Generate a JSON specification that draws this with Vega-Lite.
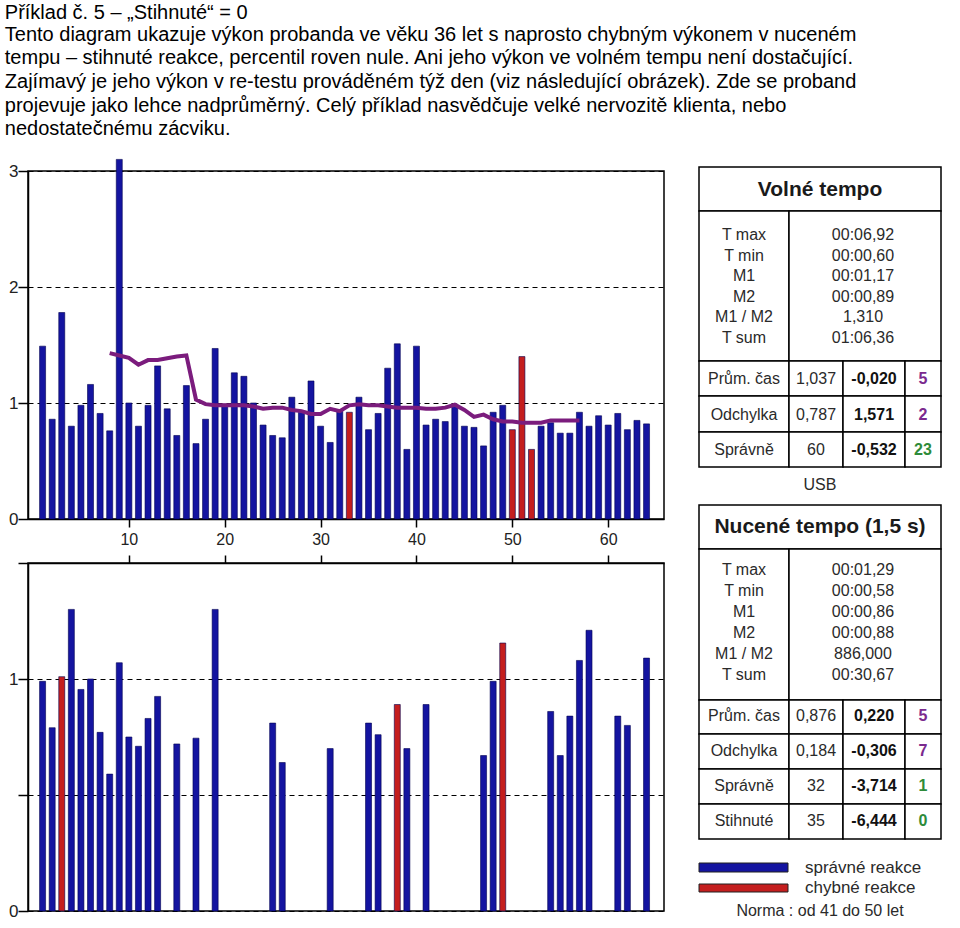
{
  "$schema": "https://vega.github.io/schema/vega-lite/v6.json",
  "padding": {"left": 4, "top": 2, "right": 0, "bottom": 0},
  "background": "white",
  "title": {
    "text": "Příklad č. 5 – „Stihnuté“ = 0",
    "subtitle": [
      "Tento diagram ukazuje výkon probanda ve věku 36 let s naprosto chybným výkonem v nuceném",
      "tempu – stihnuté reakce, percentil roven nule. Ani jeho výkon ve volném tempu není dostačující.",
      "Zajímavý je jeho výkon v re-testu prováděném týž den (viz následující obrázek). Zde se proband",
      "projevuje jako lehce nadprůměrný. Celý příklad nasvědčuje velké nervozitě klienta, nebo",
      "nedostatečnému zácviku."
    ],
    "anchor": "start",
    "frame": "bounds",
    "dx": -3,
    "font": "Liberation Sans",
    "fontSize": 20,
    "fontWeight": "normal",
    "color": "black",
    "subtitleFont": "Liberation Sans",
    "subtitleFontSize": 20,
    "subtitleColor": "black",
    "subtitleLineHeight": 23.7,
    "subtitlePadding": 2,
    "offset": 19
  },
  "datasets": {
    "volne": [
      {"n":1,"v":1.49,"r":"správná"},{"n":2,"v":0.86,"r":"správná"},{"n":3,"v":1.78,"r":"správná"},{"n":4,"v":0.80,"r":"správná"},
      {"n":5,"v":0.98,"r":"správná"},{"n":6,"v":1.16,"r":"správná"},{"n":7,"v":0.91,"r":"správná"},{"n":8,"v":0.76,"r":"správná"},
      {"n":9,"v":3.10,"r":"správná"},{"n":10,"v":1.00,"r":"správná"},{"n":11,"v":0.80,"r":"správná"},{"n":12,"v":0.98,"r":"správná"},
      {"n":13,"v":1.32,"r":"správná"},{"n":14,"v":0.95,"r":"správná"},{"n":15,"v":0.72,"r":"správná"},{"n":16,"v":1.15,"r":"správná"},
      {"n":17,"v":0.65,"r":"správná"},{"n":18,"v":0.86,"r":"správná"},{"n":19,"v":1.47,"r":"správná"},{"n":20,"v":0.99,"r":"správná"},
      {"n":21,"v":1.26,"r":"správná"},{"n":22,"v":1.23,"r":"správná"},{"n":23,"v":1.00,"r":"správná"},{"n":24,"v":0.81,"r":"správná"},
      {"n":25,"v":0.72,"r":"správná"},{"n":26,"v":0.70,"r":"správná"},{"n":27,"v":1.05,"r":"správná"},{"n":28,"v":0.92,"r":"správná"},
      {"n":29,"v":1.19,"r":"správná"},{"n":30,"v":0.80,"r":"správná"},{"n":31,"v":0.66,"r":"správná"},{"n":32,"v":0.93,"r":"správná"},
      {"n":33,"v":0.92,"r":"chybná"},{"n":34,"v":1.05,"r":"správná"},{"n":35,"v":0.77,"r":"správná"},{"n":36,"v":0.91,"r":"správná"},
      {"n":37,"v":1.30,"r":"správná"},{"n":38,"v":1.51,"r":"správná"},{"n":39,"v":0.60,"r":"správná"},{"n":40,"v":1.49,"r":"správná"},
      {"n":41,"v":0.81,"r":"správná"},{"n":42,"v":0.86,"r":"správná"},{"n":43,"v":0.84,"r":"správná"},{"n":44,"v":0.99,"r":"správná"},
      {"n":45,"v":0.80,"r":"správná"},{"n":46,"v":0.79,"r":"správná"},{"n":47,"v":0.63,"r":"správná"},{"n":48,"v":0.92,"r":"správná"},
      {"n":49,"v":0.98,"r":"správná"},{"n":50,"v":0.77,"r":"chybná"},{"n":51,"v":1.40,"r":"chybná"},{"n":52,"v":0.60,"r":"chybná"},
      {"n":53,"v":0.80,"r":"správná"},{"n":54,"v":0.83,"r":"správná"},{"n":55,"v":0.74,"r":"správná"},{"n":56,"v":0.74,"r":"správná"},
      {"n":57,"v":0.92,"r":"správná"},{"n":58,"v":0.80,"r":"správná"},{"n":59,"v":0.89,"r":"správná"},{"n":60,"v":0.81,"r":"správná"},
      {"n":61,"v":0.91,"r":"správná"},{"n":62,"v":0.77,"r":"správná"},{"n":63,"v":0.85,"r":"správná"},{"n":64,"v":0.82,"r":"správná"}
    ],
    "volneMedian": [
      {"n":8,"m":1.43},{"n":9,"m":1.41},{"n":10,"m":1.39},{"n":11,"m":1.33},{"n":12,"m":1.37},{"n":13,"m":1.37},
      {"n":14,"m":1.385},{"n":15,"m":1.40},{"n":16,"m":1.41},{"n":17,"m":1.03},{"n":18,"m":0.99},{"n":19,"m":0.98},
      {"n":20,"m":0.98},{"n":21,"m":0.98},{"n":22,"m":0.98},{"n":23,"m":0.97},{"n":24,"m":0.95},{"n":25,"m":0.96},
      {"n":26,"m":0.96},{"n":27,"m":0.94},{"n":28,"m":0.93},{"n":29,"m":0.905},{"n":30,"m":0.905},{"n":31,"m":0.95},
      {"n":32,"m":0.93},{"n":33,"m":0.98},{"n":34,"m":0.99},{"n":35,"m":0.98},{"n":36,"m":0.98},{"n":37,"m":0.97},
      {"n":38,"m":0.96},{"n":39,"m":0.96},{"n":40,"m":0.96},{"n":41,"m":0.95},{"n":42,"m":0.95},{"n":43,"m":0.96},
      {"n":44,"m":0.985},{"n":45,"m":0.94},{"n":46,"m":0.88},{"n":47,"m":0.90},{"n":48,"m":0.86},{"n":49,"m":0.84},
      {"n":50,"m":0.84},{"n":51,"m":0.83},{"n":52,"m":0.83},{"n":53,"m":0.83},{"n":54,"m":0.85},{"n":55,"m":0.85},
      {"n":56,"m":0.85},{"n":57,"m":0.85}
    ],
    "nucene": [
      {"n":1,"v":0.99,"r":"správná"},{"n":2,"v":0.79,"r":"správná"},{"n":3,"v":1.01,"r":"chybná"},{"n":4,"v":1.30,"r":"správná"},
      {"n":5,"v":0.955,"r":"správná"},{"n":6,"v":1.00,"r":"správná"},{"n":7,"v":0.77,"r":"správná"},{"n":8,"v":0.59,"r":"správná"},
      {"n":9,"v":1.07,"r":"správná"},{"n":10,"v":0.75,"r":"správná"},{"n":11,"v":0.71,"r":"správná"},{"n":12,"v":0.83,"r":"správná"},
      {"n":13,"v":0.925,"r":"správná"},{"n":15,"v":0.72,"r":"správná"},{"n":17,"v":0.745,"r":"správná"},{"n":19,"v":1.30,"r":"správná"},
      {"n":25,"v":0.81,"r":"správná"},{"n":26,"v":0.64,"r":"správná"},{"n":31,"v":0.70,"r":"správná"},{"n":35,"v":0.81,"r":"správná"},
      {"n":36,"v":0.76,"r":"správná"},{"n":38,"v":0.89,"r":"chybná"},{"n":39,"v":0.70,"r":"správná"},{"n":41,"v":0.89,"r":"správná"},
      {"n":47,"v":0.67,"r":"správná"},{"n":48,"v":0.99,"r":"správná"},{"n":49,"v":1.155,"r":"chybná"},{"n":54,"v":0.86,"r":"správná"},
      {"n":55,"v":0.67,"r":"správná"},{"n":56,"v":0.84,"r":"správná"},{"n":57,"v":1.08,"r":"správná"},{"n":58,"v":1.21,"r":"správná"},
      {"n":61,"v":0.84,"r":"správná"},{"n":62,"v":0.80,"r":"správná"},{"n":64,"v":1.09,"r":"správná"}
    ],
    "cells": [
      {"x0":0,"x1":242,"y0":8,"y1":52},{"x0":0,"x1":90,"y0":52,"y1":202},{"x0":90,"x1":242,"y0":52,"y1":202},
      {"x0":0,"x1":90,"y0":202,"y1":237},{"x0":90,"x1":144,"y0":202,"y1":237},{"x0":144,"x1":206,"y0":202,"y1":237},{"x0":206,"x1":242,"y0":202,"y1":237},
      {"x0":0,"x1":90,"y0":237,"y1":273},{"x0":90,"x1":144,"y0":237,"y1":273},{"x0":144,"x1":206,"y0":237,"y1":273},{"x0":206,"x1":242,"y0":237,"y1":273},
      {"x0":0,"x1":90,"y0":273,"y1":308},{"x0":90,"x1":144,"y0":273,"y1":308},{"x0":144,"x1":206,"y0":273,"y1":308},{"x0":206,"x1":242,"y0":273,"y1":308},
      {"x0":0,"x1":242,"y0":346,"y1":390},{"x0":0,"x1":90,"y0":390,"y1":541},{"x0":90,"x1":242,"y0":390,"y1":541},
      {"x0":0,"x1":90,"y0":541,"y1":575},{"x0":90,"x1":144,"y0":541,"y1":575},{"x0":144,"x1":206,"y0":541,"y1":575},{"x0":206,"x1":242,"y0":541,"y1":575},
      {"x0":0,"x1":90,"y0":575,"y1":610},{"x0":90,"x1":144,"y0":575,"y1":610},{"x0":144,"x1":206,"y0":575,"y1":610},{"x0":206,"x1":242,"y0":575,"y1":610},
      {"x0":0,"x1":90,"y0":610,"y1":645},{"x0":90,"x1":144,"y0":610,"y1":645},{"x0":144,"x1":206,"y0":610,"y1":645},{"x0":206,"x1":242,"y0":610,"y1":645},
      {"x0":0,"x1":90,"y0":645,"y1":680},{"x0":90,"x1":144,"y0":645,"y1":680},{"x0":144,"x1":206,"y0":645,"y1":680},{"x0":206,"x1":242,"y0":645,"y1":680}
    ],
    "swatches": [
      {"x0":0,"x1":89,"y0":704,"y1":713,"r":"správná"},
      {"x0":0,"x1":89,"y0":725,"y1":733,"r":"chybná"}
    ],
    "texts": [
      {"t":"Volné tempo","k":"head","x":121,"y":30.7},
      {"t":"T max","k":"lab","x":45,"y":76},{"t":"T min","k":"lab","x":45,"y":96.5},{"t":"M1","k":"lab","x":45,"y":117},
      {"t":"M2","k":"lab","x":45,"y":137.5},{"t":"M1 / M2","k":"lab","x":45,"y":158},{"t":"T sum","k":"lab","x":45,"y":178.5},
      {"t":"00:06,92","k":"stat","x":164,"y":76},{"t":"00:00,60","k":"stat","x":164,"y":96.5},{"t":"00:01,17","k":"stat","x":164,"y":117},
      {"t":"00:00,89","k":"stat","x":164,"y":137.5},{"t":"1,310","k":"stat","x":164,"y":158},{"t":"01:06,36","k":"stat","x":164,"y":178.5},
      {"t":"Prům. čas","k":"lab","x":45,"y":220},{"t":"Odchylka","k":"lab","x":45,"y":256},{"t":"Správně","k":"lab","x":45,"y":290.7},
      {"t":"1,037","k":"stat","x":117,"y":220},{"t":"0,787","k":"stat","x":117,"y":256},{"t":"60","k":"stat","x":117,"y":290.7},
      {"t":"-0,020","k":"z","x":175,"y":220},{"t":"1,571","k":"z","x":175,"y":256},{"t":"-0,532","k":"z","x":175,"y":290.7},
      {"t":"5","k":"rank","c":"p","x":224,"y":220},{"t":"2","k":"rank","c":"p","x":224,"y":256},{"t":"23","k":"rank","c":"g","x":224,"y":290.7},
      {"t":"USB","k":"note","x":121,"y":326},
      {"t":"Nucené tempo (1,5 s)","k":"head","x":121,"y":368.3},
      {"t":"T max","k":"lab","x":45,"y":411},{"t":"T min","k":"lab","x":45,"y":432},{"t":"M1","k":"lab","x":45,"y":453},
      {"t":"M2","k":"lab","x":45,"y":474},{"t":"M1 / M2","k":"lab","x":45,"y":495},{"t":"T sum","k":"lab","x":45,"y":516},
      {"t":"00:01,29","k":"stat","x":164,"y":411},{"t":"00:00,58","k":"stat","x":164,"y":432},{"t":"00:00,86","k":"stat","x":164,"y":453},
      {"t":"00:00,88","k":"stat","x":164,"y":474},{"t":"886,000","k":"stat","x":164,"y":495},{"t":"00:30,67","k":"stat","x":164,"y":516},
      {"t":"Prům. čas","k":"lab","x":45,"y":556.7},{"t":"Odchylka","k":"lab","x":45,"y":591.7},{"t":"Správně","k":"lab","x":45,"y":626.7},{"t":"Stihnuté","k":"lab","x":45,"y":661.7},
      {"t":"0,876","k":"stat","x":117,"y":556.7},{"t":"0,184","k":"stat","x":117,"y":591.7},{"t":"32","k":"stat","x":117,"y":626.7},{"t":"35","k":"stat","x":117,"y":661.7},
      {"t":"0,220","k":"z","x":175,"y":556.7},{"t":"-0,306","k":"z","x":175,"y":591.7},{"t":"-3,714","k":"z","x":175,"y":626.7},{"t":"-6,444","k":"z","x":175,"y":661.7},
      {"t":"5","k":"rank","c":"p","x":224,"y":556.7},{"t":"7","k":"rank","c":"p","x":224,"y":591.7},{"t":"1","k":"rank","c":"g","x":224,"y":626.7},{"t":"0","k":"rank","c":"g","x":224,"y":661.7},
      {"t":"správné reakce","k":"leg","x":106,"y":709.3},{"t":"chybné reakce","k":"leg","x":106,"y":729.3},
      {"t":"Norma : od 41 do 50 let","k":"note","x":121,"y":751.7}
    ]
  },
  "spacing": 33,
  "hconcat": [
    {
      "vconcat": [
        {
          "width": 636,
          "height": 348,
          "layer": [
            {
              "data": {"name": "volne"},
              "mark": {"type": "bar", "width": 6, "clip": false, "stroke": "#000050", "strokeWidth": 0.6},
              "encoding": {
                "x": {"field": "n", "type": "quantitative",
                  "scale": {"domain": [0, 65.3], "nice": false, "zero": false},
                  "axis": {"values": [10, 20, 30, 40, 50, 60], "tickSize": 8, "labelPadding": 4, "labelFontSize": 16, "grid": false, "title": null}},
                "y": {"field": "v", "type": "quantitative",
                  "scale": {"domain": [0, 3], "nice": false},
                  "axis": {"values": [0, 1, 2, 3], "format": "d", "tickSize": 10, "labelPadding": 0, "labelFontSize": 17, "grid": true, "gridDash": [5, 4], "gridColor": "black", "gridWidth": 1, "gridOpacity": 1, "title": null}},
                "color": {"field": "r", "type": "nominal", "scale": {"domain": ["správná", "chybná"], "range": ["#1414a0", "#c41e1e"]}, "legend": null}
              }
            },
            {
              "data": {"name": "volneMedian"},
              "mark": {"type": "line", "color": "#7b1c7d", "strokeWidth": 4, "clip": false},
              "encoding": {
                "x": {"field": "n", "type": "quantitative"},
                "y": {"field": "m", "type": "quantitative"}
              }
            }
          ]
        },
        {
          "width": 636,
          "height": 348,
          "data": {"name": "nucene"},
          "mark": {"type": "bar", "width": 6, "clip": false, "stroke": "#000050", "strokeWidth": 0.6},
          "encoding": {
            "x": {"field": "n", "type": "quantitative",
              "scale": {"domain": [0, 65.3], "nice": false, "zero": false},
              "axis": {"orient": "top", "values": [10, 20, 30, 40, 50, 60], "tickSize": 8, "labels": false, "grid": false, "title": null}},
            "y": {"field": "v", "type": "quantitative",
              "scale": {"domain": [0, 1.5], "nice": false},
              "axis": {"values": [0, 0.5, 1, 1.5], "tickSize": 10, "labelPadding": 0, "labelFontSize": 17, "labelExpr": "datum.value == 0 ? '0' : (datum.value == 1 ? '1' : '')", "grid": true, "gridDash": [5, 4], "gridColor": "black", "gridWidth": 1, "gridOpacity": 1, "title": null}},
            "color": {"field": "r", "type": "nominal", "scale": {"domain": ["správná", "chybná"], "range": ["#1414a0", "#c41e1e"]}, "legend": null}
          }
        }
      ],
      "bounds": "flush",
      "spacing": 44
    },
    {
      "width": 242,
      "height": 760,
      "view": {"stroke": null},
      "encoding": {
        "x": {"type": "quantitative", "scale": {"domain": [0, 242], "nice": false, "zero": false}, "axis": null},
        "y": {"type": "quantitative", "scale": {"domain": [12, 772], "nice": false, "zero": false, "reverse": true}, "axis": null}
      },
      "layer": [
        {
          "data": {"name": "cells"},
          "mark": {"type": "rect", "fill": "white", "stroke": "black", "strokeWidth": 1.5},
          "encoding": {
            "x": {"field": "x0", "type": "quantitative"}, "x2": {"field": "x1"},
            "y": {"field": "y0", "type": "quantitative"}, "y2": {"field": "y1"}
          }
        },
        {
          "data": {"name": "swatches"},
          "mark": {"type": "rect", "stroke": "#202020", "strokeWidth": 1},
          "encoding": {
            "x": {"field": "x0", "type": "quantitative"}, "x2": {"field": "x1"},
            "y": {"field": "y0", "type": "quantitative"}, "y2": {"field": "y1"},
            "color": {"field": "r", "type": "nominal", "scale": {"domain": ["správná", "chybná"], "range": ["#1414a0", "#c41e1e"]}, "legend": null}
          }
        },
        {
          "data": {"name": "texts"},
          "transform": [{"filter": "datum.k == 'head'"}],
          "mark": {"type": "text", "font": "Liberation Sans", "fontSize": 21, "fontWeight": "bold", "color": "#1a1a1a", "align": "center", "baseline": "middle"},
          "encoding": {"x": {"field": "x", "type": "quantitative"}, "y": {"field": "y", "type": "quantitative"}, "text": {"field": "t"}}
        },
        {
          "data": {"name": "texts"},
          "transform": [{"filter": "datum.k == 'lab' || datum.k == 'stat' || datum.k == 'note'"}],
          "mark": {"type": "text", "font": "Liberation Sans", "fontSize": 16, "color": "#2a2a2a", "align": "center", "baseline": "middle"},
          "encoding": {"x": {"field": "x", "type": "quantitative"}, "y": {"field": "y", "type": "quantitative"}, "text": {"field": "t"}}
        },
        {
          "data": {"name": "texts"},
          "transform": [{"filter": "datum.k == 'z'"}],
          "mark": {"type": "text", "font": "Liberation Sans", "fontSize": 16, "fontWeight": "bold", "color": "#111111", "align": "center", "baseline": "middle"},
          "encoding": {"x": {"field": "x", "type": "quantitative"}, "y": {"field": "y", "type": "quantitative"}, "text": {"field": "t"}}
        },
        {
          "data": {"name": "texts"},
          "transform": [{"filter": "datum.k == 'rank'"}],
          "mark": {"type": "text", "font": "Liberation Sans", "fontSize": 16, "fontWeight": "bold", "align": "center", "baseline": "middle"},
          "encoding": {
            "x": {"field": "x", "type": "quantitative"}, "y": {"field": "y", "type": "quantitative"}, "text": {"field": "t"},
            "color": {"field": "c", "type": "nominal", "scale": {"domain": ["p", "g"], "range": ["#7a2a8e", "#2e8b3a"]}, "legend": null}
          }
        },
        {
          "data": {"name": "texts"},
          "transform": [{"filter": "datum.k == 'leg'"}],
          "mark": {"type": "text", "font": "Liberation Sans", "fontSize": 17, "color": "#2a2a2a", "align": "left", "baseline": "middle"},
          "encoding": {"x": {"field": "x", "type": "quantitative"}, "y": {"field": "y", "type": "quantitative"}, "text": {"field": "t"}}
        }
      ],
      "resolve": {"scale": {"color": "independent"}}
    }
  ],
  "config": {
    "view": {"stroke": "black", "strokeWidth": 1.5},
    "axis": {
      "domainColor": "black", "domainWidth": 1.5, "tickColor": "black", "tickWidth": 1.5,
      "labelFont": "Liberation Sans", "labelColor": "#222222"
    }
  }
}
